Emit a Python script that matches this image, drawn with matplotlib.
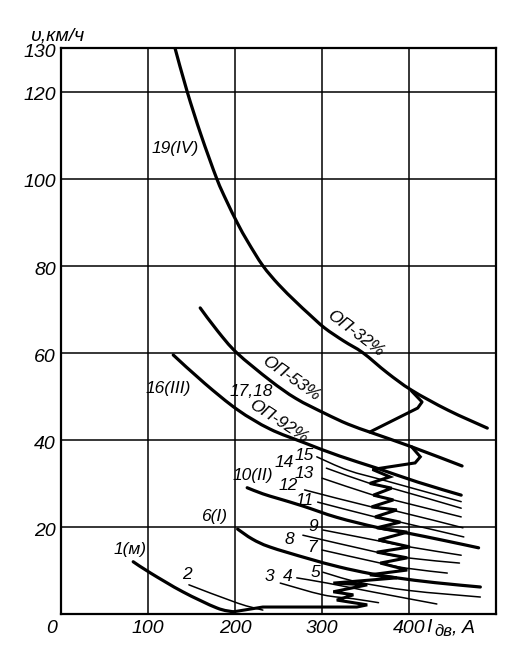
import matplotlib
matplotlib.use("Agg")
import matplotlib.pyplot as plt
from matplotlib import font_manager as fm
from matplotlib.path import Path
from matplotlib.patches import PathPatch
from matplotlib.transforms import blended_transform_factory

# ---------------- data (current I, A ; speed v, km/h) ----------------
x_ticks = [0, 100, 200, 300, 400]
x_tick_labels = ["0", "100", "200", "300", "400"]
y_ticks = [20, 40, 60, 80, 100, 120, 130]
y_tick_labels = ["20", "40", "60", "80", "100", "120", "130"]

# thick characteristics
c19_I = [131, 145, 161, 179, 190, 203, 215, 232, 250, 270, 285, 303, 325, 347, 375, 403, 445, 490]
c19_v = [130, 120, 110, 100, 95.0, 89.7, 85.4, 80, 75.7, 71.7, 68.9, 65.7, 62.7, 60, 55.4, 51.4, 46.8, 42.7]
c1718_I = [160, 180, 202, 240, 270, 303, 330, 359, 403, 461]
c1718_v = [70.3, 65, 60, 53.7, 49.5, 46.1, 43.6, 41.5, 38.4, 34]
c16_I = [129, 165, 203, 240, 280, 320, 363, 410, 460]
c16_v = [59.5, 53, 46.9, 42.5, 39.3, 36.3, 33.5, 30.3, 27.3]
c10_I = [214, 232, 250, 278, 317, 363, 398, 440, 480]
c10_v = [29, 27.6, 26.5, 24.8, 22.2, 19.9, 18.6, 16.9, 15.2]
c6_I = [203, 220, 240, 283, 320, 355, 386, 430, 482]
c6_v = [19.5, 17.2, 15.4, 12.8, 10.8, 9.3, 8.3, 7.2, 6.2]
c1_I = [83, 103, 140, 179, 198]
c1_v = [12, 9.4, 5.1, 1.4, 0.5]

# thin position characteristics
p15_I = [294, 330, 375, 460];      p15_v = [36.1, 33, 30.5, 25.8]
p14_I = [305, 355, 380, 460];      p14_v = [33.5, 30, 28.9, 24.3]
p13_I = [300, 359, 382, 460];      p13_v = [31.2, 27.3, 26.2, 22.3]
p12_I = [280, 357, 386, 462];      p12_v = [28.5, 24.6, 23.6, 19.8]
p11_I = [295, 361, 390, 463];      p11_v = [25.7, 22.3, 21.1, 17.7]
p9_I = [301, 365, 401, 460];       p9_v = [19.3, 16.8, 15.4, 13.5]
p8_I = [278, 363, 398, 458];       p8_v = [18.1, 14.2, 12.9, 11.7]
p7_I = [300, 367, 398, 444];       p7_v = [14.7, 11.7, 10.5, 9.4]
p5_I = [301, 340, 400, 482];       p5_v = [9.6, 7.4, 5.4, 3.9]
p4_I = [271, 306, 360, 432];       p4_v = [8.3, 7.1, 5.0, 2.3]
p3_I = [252, 301, 336, 365];       p3_v = [7.1, 4.4, 3.5, 2.6]
p2_I = [147, 203, 232];            p2_v = [6.7, 2.5, 0.9]

# start-up (transition) path
path_I = [198, 232, 340, 352, 317, 336, 313, 352, 313, 386, 355, 398, 367, 398,
          363, 401, 365, 398, 363, 390, 361, 386, 357, 382, 359, 380, 355, 378,
          358, 407, 413, 403]
path_v = [0.5, 1.6, 1.6, 2.1, 3.2, 4.4, 5.1, 6.7, 7.1, 8.3, 9.0, 10.1, 11.7, 12.9,
          14.2, 15.4, 17.0, 18.8, 19.8, 21.1, 22.3, 23.9, 24.6, 26.2, 27.3, 28.9, 30.0, 31.5,
          33.2, 34.7, 36.1, 38.4]
link_I = [355, 410, 415, 403]
link_v = [41.8, 47.3, 48.7, 51.2]

# ---------------- fonts ----------------
names = {f.name for f in fm.fontManager.ttflist}
fam = "Liberation Sans Narrow" if "Liberation Sans Narrow" in names else "Liberation Sans"
plt.rcParams['font.family'] = [fam, 'DejaVu Sans']

fig = plt.figure(figsize=(5.13, 6.59), dpi=100)
ax = fig.add_axes([61/513, 1-614/659, (496-61)/513, (614-48)/659])
ax.set_xlim(0, 500)
ax.set_ylim(0, 130)

for s in ax.spines.values():
    s.set_linewidth(1.6)
    s.set_color('black')

ax.set_xticks(x_ticks)
ax.set_yticks(y_ticks)
ax.set_xticklabels([])
ax.set_yticklabels([])
ax.tick_params(length=0)
ax.grid(True, color='black', linewidth=1.1)
ax.set_axisbelow(True)

tick_font = dict(fontsize=14, style='italic')
ytr = blended_transform_factory(ax.transAxes, ax.transData)
for t, lab_ in zip(y_ticks, y_tick_labels):
    ax.text(-0.012, t - 1.0, lab_, transform=ytr, ha='right', va='center', **tick_font)
xtr = blended_transform_factory(ax.transData, ax.transAxes)
for t, lab_ in zip(x_ticks, x_tick_labels):
    xx = t - 11 if t == 0 else t
    ax.text(xx, -0.025, lab_, transform=xtr, ha='center', va='center', **tick_font)


def smooth(I, v, **kw):
    pts = list(zip(I, v))
    n = len(pts)
    verts = [pts[0]]
    codes = [Path.MOVETO]
    for i in range(n - 1):
        p0 = pts[i - 1] if i > 0 else pts[i]
        p1 = pts[i]
        p2 = pts[i + 1]
        p3 = pts[i + 2] if i + 2 < n else pts[i + 1]
        c1 = (p1[0] + (p2[0] - p0[0]) / 6, p1[1] + (p2[1] - p0[1]) / 6)
        c2 = (p2[0] - (p3[0] - p1[0]) / 6, p2[1] - (p3[1] - p1[1]) / 6)
        verts += [c1, c2, p2]
        codes += [Path.CURVE4] * 3
    ax.add_patch(PathPatch(Path(verts, codes), fill=False, transform=ax.transData,
                           capstyle='round', joinstyle='round', **kw))


thick = dict(edgecolor='black', lw=2.3)
thin = dict(edgecolor='black', lw=1.1)

for I, v in [(c19_I, c19_v), (c1718_I, c1718_v), (c16_I, c16_v), (c10_I, c10_v),
             (c6_I, c6_v), (c1_I, c1_v)]:
    smooth(I, v, **thick)
for I, v in [(p15_I, p15_v), (p14_I, p14_v), (p13_I, p13_v), (p12_I, p12_v),
             (p11_I, p11_v), (p9_I, p9_v), (p8_I, p8_v), (p7_I, p7_v),
             (p5_I, p5_v), (p4_I, p4_v), (p3_I, p3_v), (p2_I, p2_v)]:
    smooth(I, v, **thin)
ax.plot(path_I, path_v, color='black', lw=2.2, solid_joinstyle='miter', solid_capstyle='round')
ax.plot(link_I, link_v, color='black', lw=2.2, solid_joinstyle='round', solid_capstyle='round')

lab = dict(style='italic', fontsize=12.5, ha='center', va='center')
ax.text(131, 107, "19(IV)", **lab)
ax.text(338, 64.5, "ОП-32%", rotation=-37, **lab)
ax.text(264, 54.0, "ОП-53%", rotation=-35, **lab)
ax.text(250, 44.2, "ОП-92%", rotation=-33, **lab)
ax.text(219, 51.2, "17,18", **lab)
ax.text(123, 51.7, "16(III)", **lab)
ax.text(221, 31.7, "10(II)", **lab)
ax.text(176, 22.3, "6(I)", **lab)
ax.text(79, 14.7, "1(м)", **lab)
for t, I, v in [("2", 145, 9.0), ("3", 239, 8.7), ("4", 261, 8.7), ("5", 292, 9.6),
                ("7", 289, 15.2), ("8", 263, 17.2), ("9", 290, 20.2), ("11", 280, 26.0),
                ("12", 261, 29.4), ("13", 280, 32.2), ("14", 257, 34.7), ("15", 279, 36.5)]:
    ax.text(I, v, t, **lab)

# axis titles
fig.text(30/513, 1-36/659, "υ,км/ч", fontsize=14, style='italic', ha='left', va='center')
fig.text(426/513, 1-628/659, "I", fontsize=14, style='italic', ha='left', va='center')
fig.text(434/513, 1-632/659, "дв", fontsize=12, style='italic', ha='left', va='center')
fig.text(452/513, 1-628/659, ", A", fontsize=14, style='italic', ha='left', va='center')

fig.savefig("out.png", dpi=100)
